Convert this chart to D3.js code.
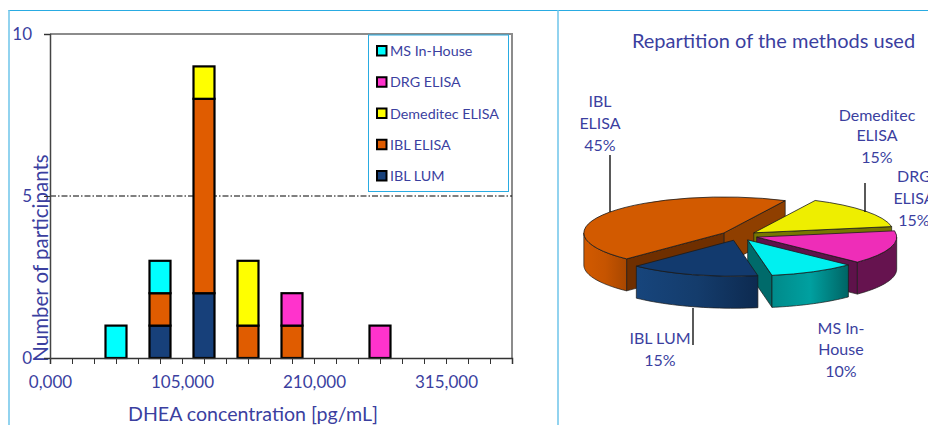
<!DOCTYPE html>
<html><head><meta charset="utf-8">
<script src="https://cdn.jsdelivr.net/npm/d3@7/dist/d3.min.js"></script>
<style>html,body{margin:0;background:#fff;overflow:hidden}svg{display:block}text{font-family:Lato,"Noto Sans",sans-serif;fill:#3b3f9f}</style>
</head><body><svg id="c" width="928" height="425"></svg>
<script>
const seriesNames = ["IBL LUM","IBL ELISA","Demeditec ELISA","DRG ELISA","MS In-House"];
const binCentres = [52500,87500,122500,157500,192500,262500];
const iblLum    = [0,1,2,0,0,0];
const iblElisa  = [0,1,6,1,1,0];
const demeditec = [0,0,1,2,0,0];
const drgElisa  = [0,0,0,0,1,1];
const msInHouse = [1,1,0,0,0,0];
const barColors = ["#17407a","#e05c00","#ffff00","#ff33cc","#00ffff"];
const xTickValues = d3.range(0,367501,17500);
const xLabelled = {0:"0,000",105000:"105,000",210000:"210,000",315000:"315,000"};
const yTicks = [0,5,10];
const pieNames = ["IBL ELISA","Demeditec ELISA","DRG ELISA","MS In-House","IBL LUM"];
const pieShares = [45,15,15,10,15];
const pieTop  = ["#d25a00","#eeee00","#ee2db8","#00f0f0","#123a6e"];
const pieFaceA = ["#6f2f00","#777700","#5e124a","#006a6a","#0e2848"];
const pieFaceB = ["#8f3f00","#777700","#5e124a","#006a6a","#0e2848"];
const pieWallL = ["#d25a00","#777700","#66134f","#008a8a","#17457c"];
const pieWallM = ["#c65400","#777700","#66134f","#00a0a0","#143c6c"];
const pieWallR = ["#a84700","#777700","#66134f","#006464","#0d2a50"];
const pieLabels = [
 {lines:["IBL","ELISA","45%"],x:600,y:[107,129,151]},
 {lines:["Demeditec","ELISA","15%"],x:877,y:[121,141,163]},
 {lines:["DRG","ELISA","15%"],x:914,y:[182,204,226]},
 {lines:["IBL LUM","15%"],x:660,y:[344,366]},
 {lines:["MS In-","House","10%"],x:841,y:[334,355,377]}
];
const leaders = [[610,155,610,212],[865,183,865,212],[693,308,693,345]];

const svg = d3.select("#c");
const defs = svg.append("defs");
const blue = "#29abe2", paleBlue="#6ec5ea";
svg.append("line").attr("x1",8.5).attr("x2",928).attr("y1",10.5).attr("y2",10.5).attr("stroke",blue);
svg.append("line").attr("x1",9).attr("x2",9).attr("y1",10).attr("y2",425).attr("stroke",paleBlue).attr("stroke-width",1.5);
svg.append("line").attr("x1",558).attr("x2",558).attr("y1",10).attr("y2",425).attr("stroke",paleBlue).attr("stroke-width",1.5);

// bar chart
const L=50,R=512,T=34,B=358;
const x = d3.scaleLinear().domain([0,367500]).range([L,R]);
const y = d3.scaleLinear().domain([0,10]).range([B,T]);
const barW = x(17500)-x(0);

svg.append("text").attr("transform",`translate(48,${258}) rotate(-90)`).attr("text-anchor","middle")
  .attr("font-size",20.5).text("Number of participants");
svg.append("rect").attr("x",L).attr("y",T).attr("width",R-L).attr("height",B-T).attr("fill","#fff");
svg.append("path").attr("d",`M${L},${T}H${R}V${B}`).attr("fill","none").attr("stroke","#8c8c8c").attr("stroke-width",2);
svg.append("line").attr("x1",L).attr("x2",R).attr("y1",y(5)).attr("y2",y(5)).attr("stroke","#000").attr("stroke-dasharray","6 2 1.5 2");

const rows = binCentres.map((c,i)=>({c,[seriesNames[0]]:iblLum[i],[seriesNames[1]]:iblElisa[i],[seriesNames[2]]:demeditec[i],[seriesNames[3]]:drgElisa[i],[seriesNames[4]]:msInHouse[i]}));
const stacked = d3.stack().keys(seriesNames)(rows);
svg.append("g").selectAll("g").data(stacked).join("g").attr("fill",(d,i)=>barColors[i])
 .selectAll("rect").data(d=>d.filter(s=>s[1]>s[0])).join("rect")
 .attr("x",d=>x(d.data.c)-barW/2+.5).attr("width",barW-1)
 .attr("y",d=>y(d[1])).attr("height",d=>y(d[0])-y(d[1]))
 .attr("stroke","#000").attr("stroke-width",2.2);

const ax = svg.append("g").attr("transform",`translate(0,${B})`)
 .call(d3.axisBottom(x).tickValues(xTickValues).tickSize(6).tickPadding(12).tickFormat(v=>xLabelled[v]||""));
ax.select(".domain").attr("stroke","#333").attr("stroke-width",1.5);
ax.selectAll("line").attr("stroke","#333");
ax.selectAll("text").attr("font-size",17).attr("font-family",null);
const ay = svg.append("g").attr("transform",`translate(${L},0)`)
 .call(d3.axisLeft(y).tickValues(yTicks).tickSize(6).tickPadding(12).tickFormat(d3.format("d")));
ay.select(".domain").attr("stroke","#444").attr("stroke-width",1.5);
ay.selectAll("line").attr("stroke","#333");
ay.selectAll("text").attr("font-size",17).attr("font-family",null);
svg.append("text").attr("x",253).attr("y",421).attr("text-anchor","middle").attr("font-size",19.6).text("DHEA concentration [pg/mL]");

// legend
svg.append("rect").attr("x",368.5).attr("y",35).attr("width",140).attr("height",156.5).attr("fill","#fff").attr("stroke",blue);
const legendOrder = seriesNames.map((n,i)=>({n,c:barColors[i]})).reverse();
const ly = d3.scalePoint().domain(legendOrder.map(d=>d.n)).range([51,176]);
const lg = svg.append("g").selectAll("g").data(legendOrder).join("g").attr("transform",d=>`translate(0,${ly(d.n)})`);
lg.append("rect").attr("x",377).attr("y",-5).attr("width",9.5).attr("height",9.5).attr("fill",d=>d.c).attr("stroke","#000").attr("stroke-width",2);
lg.append("text").attr("x",390).attr("y",5).attr("font-size",14.3).text(d=>d.n);

// pie
svg.append("text").attr("x",773.5).attr("y",48).attr("text-anchor","middle").attr("font-size",20).text("Repartition of the methods used");
const cx=739,cy=235.7,rx=140,k=36/140,depth=32,explode=18.5;
const rad=Math.PI/180, pieStart=224*rad, TAU=2*Math.PI;
const arcs = d3.pie().sort(null).startAngle(pieStart).endAngle(pieStart+TAU)(pieShares);
const arc = d3.arc().innerRadius(0).outerRadius(rx);
const edge="#1a1a1a";
const P=(a,r=rx)=>[r*Math.sin(a),-r*Math.cos(a)*k];
const gPie = svg.append("g");
arcs.forEach((d,i)=>{
  const mid=(d.startAngle+d.endAngle)/2;
  const [ox,oy]=P(mid,explode);
  const g=gPie.append("g").attr("transform",`translate(${cx+ox},${cy+oy})`);
  const face=(a,col)=>{
    const [px,py]=P(a);
    g.append("path").attr("d",`M0,0L${px},${py}v${depth}L0,${depth}Z`).attr("fill",col).attr("stroke",edge).attr("stroke-width",.7);
  };
  if(Math.sin(d.endAngle)>0) face(d.endAngle,pieFaceB[i]);
  if(Math.sin(d.startAngle)<0) face(d.startAngle,pieFaceA[i]);
  const wrap = d.startAngle>=TAU ? TAU : 0;
  const a0=Math.max(d.startAngle-wrap,Math.PI/2), a1=Math.min(d.endAngle-wrap,3*Math.PI/2);
  if(a1>a0){
    const id="w"+i;
    const [xa,ya]=P(a0),[xb,yb]=P(a1);
    const gr=defs.append("linearGradient").attr("id",id).attr("gradientUnits","userSpaceOnUse")
      .attr("x1",Math.min(xa,xb)).attr("x2",Math.max(xa,xb)).attr("y1",0).attr("y2",0);
    gr.append("stop").attr("offset",0).attr("stop-color",pieWallL[i]);
    gr.append("stop").attr("offset",.5).attr("stop-color",pieWallM[i]);
    gr.append("stop").attr("offset",1).attr("stop-color",pieWallR[i]);
    const pts=d3.range(0,25).map(j=>P(a0+(a1-a0)*j/24));
    const line=d3.line();
    const dp=line(pts)+"L"+line(pts.slice().reverse().map(p=>[p[0],p[1]+depth])).slice(1)+"Z";
    g.append("path").attr("d",dp).attr("fill",`url(#${id})`).attr("stroke",edge).attr("stroke-width",.7);
  }
  g.append("path").attr("d",arc(d)).attr("transform",`scale(1,${k})`).attr("fill",pieTop[i])
    .attr("stroke",edge).attr("stroke-width",.8).attr("vector-effect","non-scaling-stroke");
});
svg.append("g").selectAll("line").data(leaders).join("line")
 .attr("x1",d=>d[0]).attr("y1",d=>d[1]).attr("x2",d=>d[2]).attr("y2",d=>d[3]).attr("stroke","#000").attr("stroke-width",1.3);
pieLabels.forEach(l=>l.lines.forEach((t,i)=>{
  svg.append("text").attr("x",l.x).attr("y",l.y[i]).attr("text-anchor","middle").attr("font-size",16).text(t);
}));
</script></body></html>
